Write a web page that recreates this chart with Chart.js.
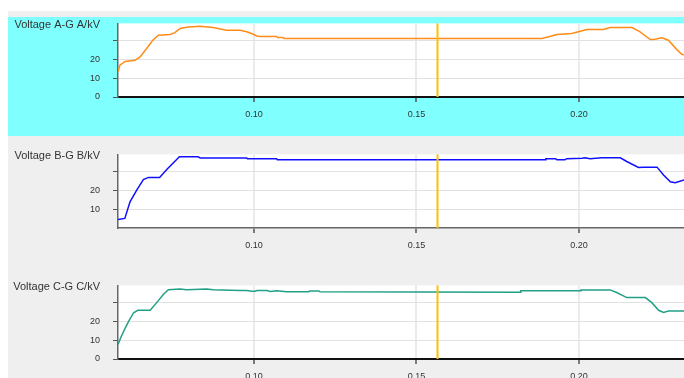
<!DOCTYPE html>
<html>
<head>
<meta charset="utf-8">
<script src="https://cdn.jsdelivr.net/npm/chart.js@4/dist/chart.umd.min.js"></script>
<style>
  html, body { margin: 0; padding: 0; background: #ffffff; width: 684px; height: 378px; overflow: hidden; }
  #frame { position: absolute; left: 8px; top: 11px; width: 676px; height: 367px; background: #efefef; }
  #band { position: absolute; left: 8px; top: 17px; width: 676px; height: 119px; background: #80ffff; }
  canvas { position: absolute; left: 8px; }
</style>
</head>
<body>
<div id="frame"></div>
<div id="band"></div>
<canvas id="chartA" width="676" height="131" style="top:5px"></canvas>
<canvas id="chartB" width="676" height="131" style="top:136px"></canvas>
<canvas id="chartC" width="676" height="131" style="top:267px"></canvas>
<script>
// Time window (s) and cursor position
const timeMin = 0.0582;
const timeMax = 0.2323;
const cursorTime = 0.1564;
const timeTicks = [0.10, 0.15, 0.20];
const timeTickLabels = ['0.10', '0.15', '0.20'];

// Voltage axis
const voltMin = 0;
const voltMax = 39.3;
const voltTicksA = [0, 10, 20, 30];
const voltLabelsA = ['0', '10', '20', ''];
const voltTicksB = [10, 20, 30];
const voltLabelsB = ['10', '20', ''];
const voltTicksC = [0, 10, 20, 30];
const voltLabelsC = ['0', '10', '20', ''];

const titles = ['Voltage A-G A/kV', 'Voltage B-G B/kV', 'Voltage C-G C/kV'];

// Phase A to ground
const timeA = [0.0582, 0.0588, 0.0604, 0.0634, 0.0650, 0.0670, 0.0689, 0.0706, 0.0742, 0.0757,
  0.0773, 0.0798, 0.0834, 0.0874, 0.0916, 0.0957, 0.0978, 0.0998, 0.1009, 0.1019,
  0.1070, 0.1073, 0.1090, 0.1093, 0.1886, 0.1910, 0.1932, 0.1978, 0.2004, 0.2024,
  0.2075, 0.2096, 0.2163, 0.2188, 0.2219, 0.2234, 0.2255, 0.2275, 0.2301, 0.2316, 0.2323];
const voltA = [13.4, 17.0, 19.0, 19.6, 21.4, 25.9, 30.3, 33.0, 33.4, 34.4,
  36.6, 37.4, 37.8, 37.1, 35.7, 35.6, 34.8, 33.5, 32.6, 32.3,
  32.3, 31.8, 31.8, 31.2, 31.2, 32.3, 33.4, 33.9, 35.1, 36.0,
  36.0, 37.1, 37.1, 34.8, 30.7, 30.9, 31.6, 30.3, 25.3, 22.8, 22.5];

// Phase B to ground
const timeB = [0.0582, 0.0603, 0.0619, 0.0640, 0.0660, 0.0676, 0.0710, 0.0732, 0.0771, 0.0828,
  0.0835, 0.0978, 0.0980, 0.1070, 0.1072, 0.1896, 0.1898, 0.1928, 0.1932, 0.1957,
  0.1962, 0.2009, 0.2019, 0.2034, 0.2070, 0.2127, 0.2147, 0.2183, 0.2198, 0.2240,
  0.2260, 0.2281, 0.2296, 0.2323];
const voltB = [4.5, 5.1, 14.0, 20.4, 25.8, 27.0, 27.0, 31.2, 38.0, 38.0,
  37.4, 37.4, 37.0, 37.0, 36.4, 36.4, 37.0, 37.0, 36.4, 36.4,
  37.0, 37.3, 37.5, 37.0, 37.5, 37.5, 35.5, 32.3, 32.5, 32.5,
  28.3, 24.7, 24.2, 25.6];

// Phase C to ground
const timeC = [0.0582, 0.0592, 0.0604, 0.0616, 0.0630, 0.0643, 0.0681, 0.0701, 0.0722, 0.0737,
  0.0773, 0.0793, 0.0855, 0.0875, 0.0957, 0.0977, 0.0994, 0.1003, 0.1010, 0.1040,
  0.1050, 0.1070, 0.1101, 0.1168, 0.1172, 0.1200, 0.1203, 0.1819, 0.1821, 0.2004,
  0.2006, 0.2096, 0.2116, 0.2147, 0.2204, 0.2224, 0.2245, 0.2260, 0.2275, 0.2323];
const voltC = [7.7, 12.0, 16.5, 20.5, 24.7, 26.0, 26.0, 30.1, 34.6, 37.0,
  37.4, 37.0, 37.4, 37.0, 36.6, 36.6, 36.2, 36.2, 36.6, 36.6,
  36.1, 36.4, 35.9, 35.9, 36.3, 36.3, 35.9, 35.7, 36.4, 36.4,
  36.9, 36.9, 35.5, 32.8, 32.8, 30.1, 26.0, 24.9, 25.6, 25.6];

const FONT = "'Liberation Sans', Arial, sans-serif";

const plotBackground = {
  id: 'plotBackground',
  beforeDraw(chart) {
    const { ctx, chartArea: a } = chart;
    ctx.save();
    ctx.fillStyle = '#ffffff';
    ctx.fillRect(a.left, a.top, a.right - a.left, a.bottom - a.top);
    ctx.restore();
  }
};

const panelTitle = {
  id: 'panelTitle',
  afterDraw(chart, args, opts) {
    const { ctx, chartArea: a } = chart;
    ctx.save();
    ctx.font = '11px ' + FONT;
    ctx.fillStyle = '#333333';
    ctx.textAlign = 'right';
    ctx.textBaseline = 'middle';
    ctx.fillText(opts.text, a.left - 18, a.top + 1.5);
    ctx.restore();
  }
};

const cursorLine = {
  id: 'cursorLine',
  afterDatasetsDraw(chart) {
    const { ctx, chartArea: a, scales } = chart;
    const x = Math.round(scales.x.getPixelForValue(cursorTime)) + 0.5;
    ctx.save();
    ctx.strokeStyle = '#ffc000';
    ctx.lineWidth = 2;
    ctx.beginPath();
    ctx.moveTo(x, a.top);
    ctx.lineTo(x, a.bottom);
    ctx.stroke();
    ctx.restore();
  }
};

function makeChart(id, times, volts, color, title, yTicks, yLabels, baseColor, baseWidth) {
  const points = times.map((t, i) => ({ x: t, y: volts[i] }));
  return new Chart(document.getElementById(id), {
    type: 'line',
    data: {
      datasets: [{
        data: points,
        borderColor: color,
        borderWidth: 1.5,
        pointRadius: 0,
        tension: 0,
        fill: false
      }]
    },
    options: {
      responsive: false,
      animation: false,
      devicePixelRatio: 1,
      layout: { padding: { top: 18, left: 0, right: 0, bottom: 0 } },
      plugins: {
        legend: { display: false },
        tooltip: { enabled: false },
        panelTitle: { text: title }
      },
      scales: {
        x: {
          type: 'linear',
          min: timeMin,
          max: timeMax,
          afterFit(s) { s.height = 39; },
          afterBuildTicks(s) { s.ticks = timeTicks.map(v => ({ value: v })); },
          ticks: {
            autoSkip: false,
            maxRotation: 0,
            padding: 7,
            color: '#333333',
            font: { family: FONT, size: 9 },
            callback: (v) => timeTickLabels[timeTicks.indexOf(v)] ?? ''
          },
          grid: { color: '#ebebeb', lineWidth: 2, tickLength: 5, tickColor: '#555555', tickWidth: 1.5 },
          border: { color: baseColor, width: baseWidth }
        },
        y: {
          type: 'linear',
          min: voltMin,
          max: voltMax,
          afterFit(s) { s.width = 110; },
          afterBuildTicks(s) { s.ticks = yTicks.map(v => ({ value: v })); },
          ticks: {
            autoSkip: false,
            padding: 13,
            color: '#333333',
            font: { family: FONT, size: 9 },
            callback: (v) => yLabels[yTicks.indexOf(v)] ?? ''
          },
          grid: { color: '#e2e2e2', lineWidth: 1, tickLength: 5, tickColor: '#555555', tickWidth: 1 },
          border: { color: '#666666', width: 1.5 }
        }
      }
    },
    plugins: [plotBackground, panelTitle, cursorLine]
  });
}

makeChart('chartA', timeA, voltA, '#ff8c1a', titles[0], voltTicksA, voltLabelsA, '#111111', 2);
makeChart('chartB', timeB, voltB, '#1010ff', titles[1], voltTicksB, voltLabelsB, '#666666', 1.5);
makeChart('chartC', timeC, voltC, '#22a086', titles[2], voltTicksC, voltLabelsC, '#111111', 2);
</script>
</body>
</html>
